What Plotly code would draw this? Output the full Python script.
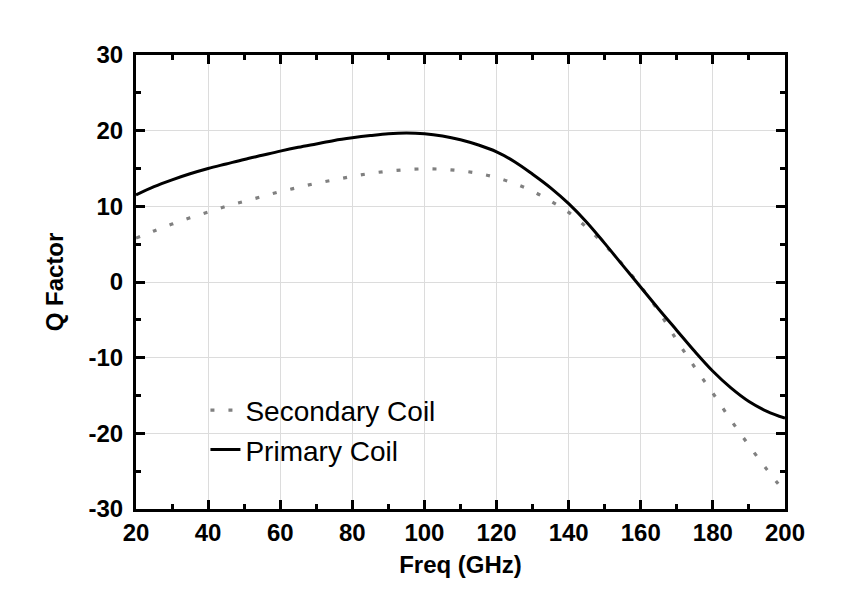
import plotly.graph_objects as go

freq = [20, 25, 30, 35, 40, 45, 50, 55, 60, 65, 70, 75, 80, 85, 90, 95, 100,
        105, 110, 115, 120, 125, 130, 135, 140, 145, 150, 155, 160, 165, 170,
        175, 180, 185, 190, 195, 200]

primary_q = [11.5, 12.6, 13.5, 14.3, 15.0, 15.6, 16.2, 16.75, 17.3, 17.8,
             18.25, 18.7, 19.05, 19.35, 19.6, 19.7, 19.6, 19.3, 18.8, 18.1,
             17.2, 15.9, 14.25, 12.45, 10.35, 7.9, 5.1, 2.2, -0.7, -3.6, -6.4,
             -9.2, -11.8, -14.0, -15.8, -17.1, -18.0]

secondary_q = [5.8, 6.75, 7.65, 8.5, 9.25, 10.0, 10.65, 11.3, 11.95, 12.5,
               13.05, 13.5, 13.95, 14.35, 14.65, 14.85, 14.95, 14.9, 14.7,
               14.35, 13.8, 13.0, 12.0, 10.7, 9.2, 7.2, 4.9, 2.3, -0.6, -3.9,
               -7.7, -11.3, -14.7, -18.25, -21.6, -24.8, -27.8]

series_names = ["Secondary Coil", "Primary Coil"]

x_tickvals = [20, 40, 60, 80, 100, 120, 140, 160, 180, 200]
x_ticktext = ["20", "40", "60", "80", "100", "120", "140", "160", "180", "200"]
y_tickvals = [-30, -20, -10, 0, 10, 20, 30]
y_ticktext = ["-30", "-20", "-10", "0", "10", "20", "30"]

x_title = "Freq (GHz)"
y_title = "Q Factor"

FONT = "Liberation Sans, Arial, Helvetica, sans-serif"

fig = go.Figure()
fig.add_trace(go.Scatter(
    x=freq, y=secondary_q, mode="lines", name=series_names[0],
    line=dict(color="#808080", width=3.2, dash="4px,14px", shape="spline"),
))
fig.add_trace(go.Scatter(
    x=freq, y=primary_q, mode="lines", name=series_names[1],
    line=dict(color="black", width=3, shape="spline"),
))

axis_common = dict(
    showline=True, linecolor="black", linewidth=3, mirror="ticks",
    ticks="inside", ticklen=9, tickwidth=2.5, tickcolor="black",
    showgrid=True, gridcolor="#dcdcdc", gridwidth=1, zeroline=False,
    tickfont=dict(family=FONT, size=24, color="black", weight="bold"),
)

fig.update_xaxes(
    range=[20, 200], tickmode="array", tickvals=x_tickvals, ticktext=x_ticktext,
    minor=dict(dtick=10, tick0=0, ticks="inside", ticklen=5, tickwidth=2.5,
               tickcolor="black", showgrid=False),
    title=dict(text=x_title, standoff=12,
               font=dict(family=FONT, size=24, color="black", weight="bold")),
    ticklabelstandoff=0,
    **axis_common,
)
fig.update_yaxes(
    range=[-30, 30], tickmode="array", tickvals=y_tickvals, ticktext=y_ticktext,
    minor=dict(dtick=5, tick0=0, ticks="inside", ticklen=5, tickwidth=2.5,
               tickcolor="black", showgrid=False),
    title=dict(text=y_title, standoff=19,
               font=dict(family=FONT, size=24, color="black", weight="bold")),
    ticklabelstandoff=5,
    **axis_common,
)

fig.update_layout(
    width=850, height=588,
    margin=dict(l=128, r=73, t=47, b=87),
    paper_bgcolor="white", plot_bgcolor="white",
    showlegend=True,
    legend=dict(
        x=0.107, y=0.272, xanchor="left", yanchor="top",
        bgcolor="rgba(0,0,0,0)", borderwidth=0,
        font=dict(family=FONT, size=28, color="black"),
        tracegroupgap=0,
    ),
)

fig.write_html("out.html")
